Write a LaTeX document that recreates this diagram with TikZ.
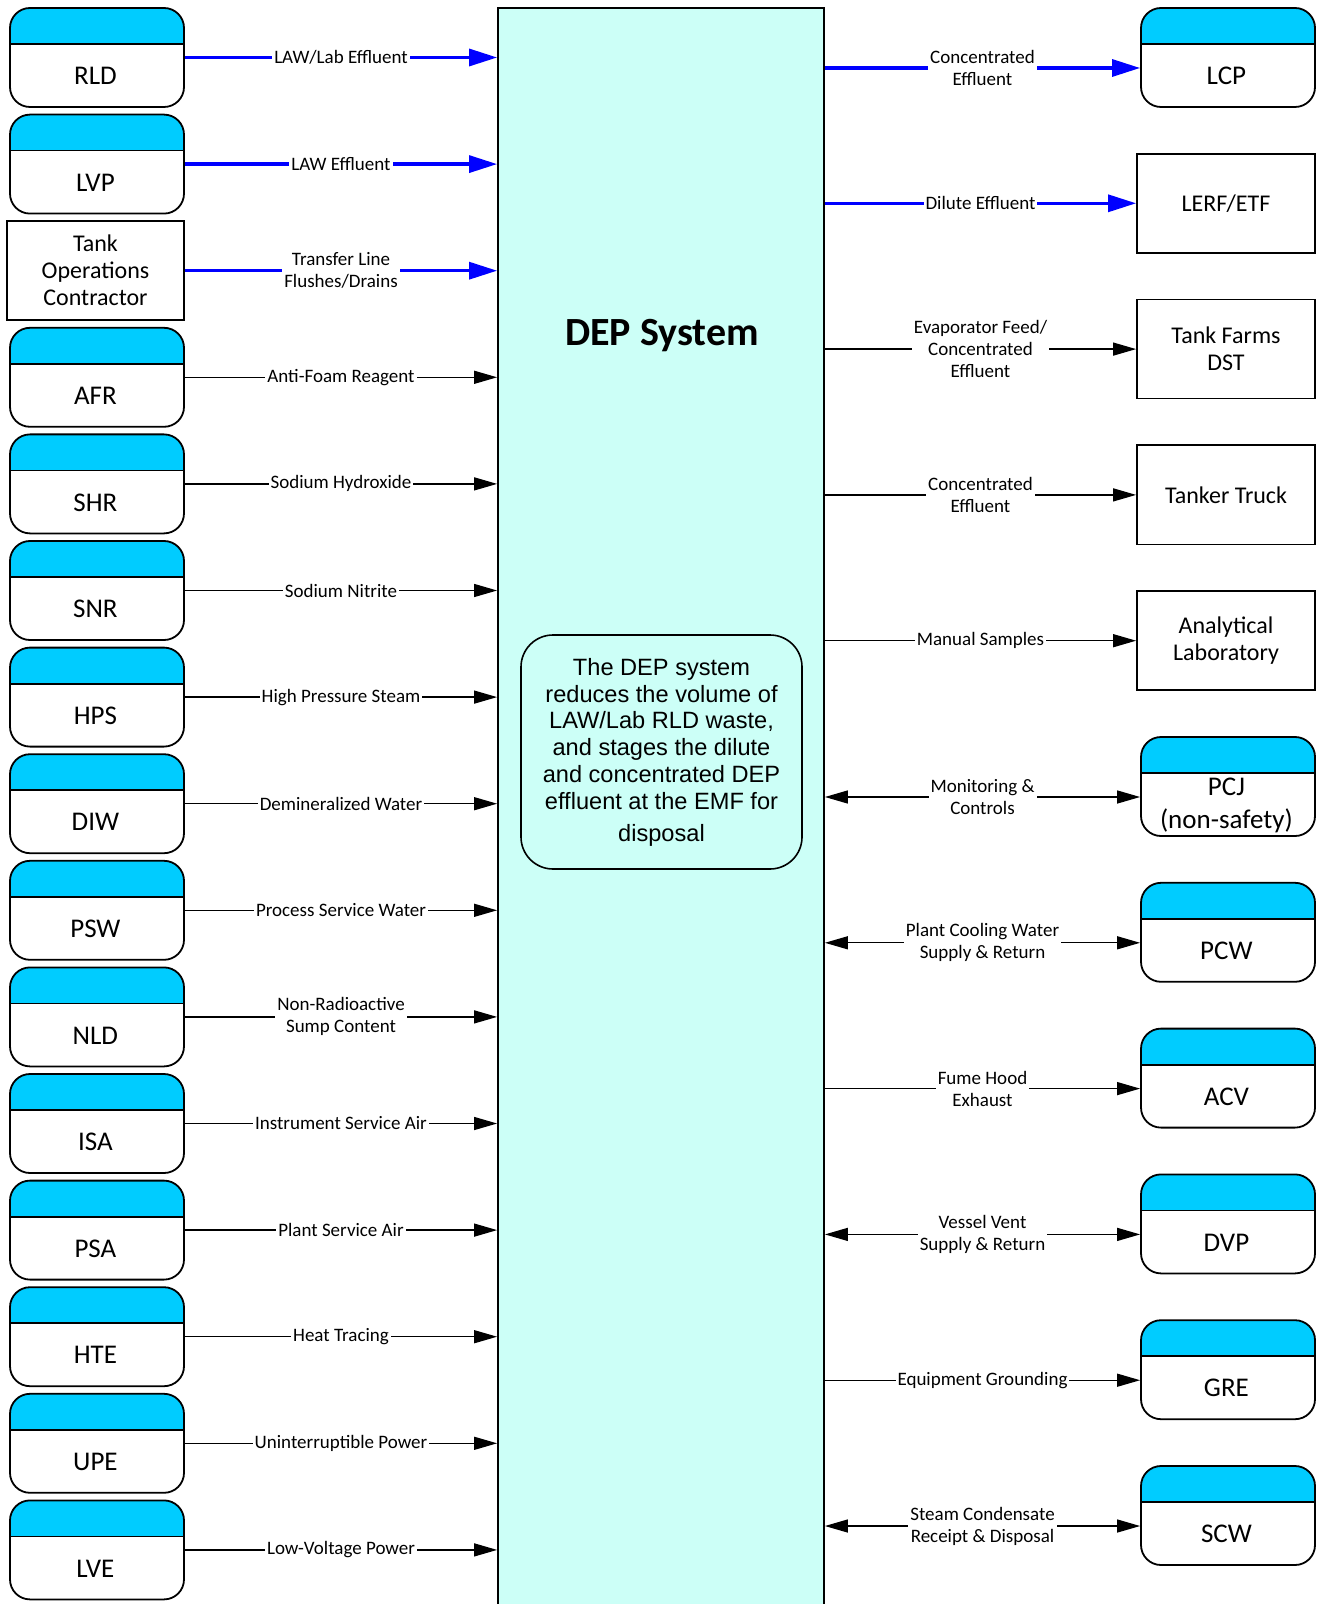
\documentclass[tikz,border=0pt]{standalone}
\usepackage{fontspec}
\setmainfont{Carlito}
\newfontfamily\arialf{Liberation Sans}
\usetikzlibrary{arrows.meta,calc}
\definecolor{hdr}{RGB}{0,204,255}
\definecolor{depfill}{RGB}{204,255,247}
\definecolor{flowblue}{RGB}{0,0,255}
\begin{document}
\begin{tikzpicture}[x=0.5pt,y=-0.5pt,
  sysbox/.style={draw, line width=0.9pt, rounded corners=10pt, minimum width=87pt, minimum height=49.5pt, inner sep=0pt, fill=white,
     path picture={\fill[hdr, sharp corners] (path picture bounding box.north west) rectangle ([yshift=-18pt]path picture bounding box.north east);
        \draw[line width=0.9pt, sharp corners] ([yshift=-18pt]path picture bounding box.north west) -- ([yshift=-18pt]path picture bounding box.north east);},
     label={[font=\fontsize{13.5}{16.5}\selectfont, align=center, yshift=-9.25pt, xshift=-0.8pt]center:#1}},
  rectbox/.style={draw, line width=0.9pt, minimum width=89pt, minimum height=49.5pt, align=center, font=\fontsize{12}{13.5}\selectfont, inner sep=2pt, fill=white},
  blk/.style={line width=0.65pt, -{Triangle[length=11.5pt,width=6.5pt]}},
  blkboth/.style={line width=0.65pt, {Triangle[length=11.5pt,width=6.5pt]}-{Triangle[length=11.5pt,width=6.5pt]}},
  blu/.style={draw=flowblue, line width=1.6pt, -{Triangle[length=14pt,width=8.5pt]}},
  lab/.style={fill=white, inner sep=1pt, align=center, font=\fontsize{9.5}{11}\selectfont, text=black}
]
\useasboundingbox (0,0) rectangle (1317,1604);

% central DEP box
\node[draw, line width=0.9pt, fill=depfill, minimum width=163pt, minimum height=806pt, inner sep=0pt] (DEP) at (661,814) {};
\node[font=\fontsize{20}{22}\selectfont\bfseries] (title) at (662,336) {DEP System};
\node[draw, line width=0.8pt, rounded corners=16pt, fill=depfill, minimum width=140.5pt, minimum height=117pt, align=center, font=\arialf\fontsize{11.8}{13.4}\selectfont] (desc) at (661.5,752) {The DEP system\\reduces the volume of\\LAW/Lab RLD waste,\\and stages the dilute\\and concentrated DEP\\effluent at the EMF for\\[2.5pt]disposal};

% left boxes
\node[sysbox=RLD] (RLD) at (97,57.5) {};
\node[sysbox=LVP] (LVP) at (97,164.1) {};
\node[rectbox, minimum width=88.5pt] (TOC) at (95.5,270.7) {Tank\\Operations\\Contractor};
\node[sysbox=AFR] (AFR) at (97,377.3) {};
\node[sysbox=SHR] (SHR) at (97,483.9) {};
\node[sysbox=SNR] (SNR) at (97,590.5) {};
\node[sysbox=HPS] (HPS) at (97,697.1) {};
\node[sysbox=DIW] (DIW) at (97,803.7) {};
\node[sysbox=PSW] (PSW) at (97,910.3) {};
\node[sysbox=NLD] (NLD) at (97,1016.9) {};
\node[sysbox=ISA] (ISA) at (97,1123.5) {};
\node[sysbox=PSA] (PSA) at (97,1230.1) {};
\node[sysbox=HTE] (HTE) at (97,1336.7) {};
\node[sysbox=UPE] (UPE) at (97,1443.3) {};
\node[sysbox=LVE] (LVE) at (97,1549.9) {};

% right boxes
\node[sysbox=LCP] (LCP) at (1228,57.5) {};
\node[rectbox] (LERF) at (1226,203.3) {LERF/ETF};
\node[rectbox] (TFD) at (1226,349.1) {Tank Farms\\DST};
\node[rectbox] (TT) at (1226,494.9) {Tanker Truck};
\node[rectbox] (AL) at (1226,640.7) {Analytical\\Laboratory};
\node[sysbox={PCJ\\(non-safety)}] (PCJ) at (1228,786.5) {};
\node[sysbox=PCW] (PCW) at (1228,932.3) {};
\node[sysbox=ACV] (ACV) at (1228,1078.1) {};
\node[sysbox=DVP] (DVP) at (1228,1223.9) {};
\node[sysbox=GRE] (GRE) at (1228,1369.7) {};
\node[sysbox=SCW] (SCW) at (1228,1515.5) {};

% left connectors
\draw[blu] (RLD.east) -- (RLD.east -| DEP.west) node[lab, midway] {LAW/Lab Effluent};
\draw[blu] (LVP.east) -- (LVP.east -| DEP.west) node[lab, midway] {LAW Effluent};
\draw[blu] (TOC.east) -- (TOC.east -| DEP.west) node[lab, midway] {Transfer Line\\Flushes/Drains};
\draw[blk] (AFR.east) -- (AFR.east -| DEP.west) node[lab, midway] {Anti-Foam Reagent};
\draw[blk] (SHR.east) -- (SHR.east -| DEP.west) node[lab, midway] {Sodium Hydroxide};
\draw[blk] (SNR.east) -- (SNR.east -| DEP.west) node[lab, midway] {Sodium Nitrite};
\draw[blk] (HPS.east) -- (HPS.east -| DEP.west) node[lab, midway] {High Pressure Steam};
\draw[blk] (DIW.east) -- (DIW.east -| DEP.west) node[lab, midway] {Demineralized Water};
\draw[blk] (PSW.east) -- (PSW.east -| DEP.west) node[lab, midway] {Process Service Water};
\draw[blk] (NLD.east) -- (NLD.east -| DEP.west) node[lab, midway] {Non-Radioactive\\Sump Content};
\draw[blk] (ISA.east) -- (ISA.east -| DEP.west) node[lab, midway] {Instrument Service Air};
\draw[blk] (PSA.east) -- (PSA.east -| DEP.west) node[lab, midway] {Plant Service Air};
\draw[blk] (HTE.east) -- (HTE.east -| DEP.west) node[lab, midway] {Heat Tracing};
\draw[blk] (UPE.east) -- (UPE.east -| DEP.west) node[lab, midway] {Uninterruptible Power};
\draw[blk] (LVE.east) -- (LVE.east -| DEP.west) node[lab, midway] {Low-Voltage Power};

% right connectors
\coordinate (LCPin) at ([yshift=-5.25pt]LCP.west);
\coordinate (PCJin) at ([yshift=-5.25pt]PCJ.west);
\coordinate (PCWin) at ([yshift=-5.25pt]PCW.west);
\coordinate (ACVin) at ([yshift=-5.25pt]ACV.west);
\coordinate (DVPin) at ([yshift=-5.25pt]DVP.west);
\coordinate (GREin) at ([yshift=-5.25pt]GRE.west);
\coordinate (SCWin) at ([yshift=-5.25pt]SCW.west);
\draw[blu] (LCPin -| DEP.east) -- (LCPin) node[lab, midway] {Concentrated\\Effluent};
\draw[blu] (LERF.west -| DEP.east) -- (LERF.west) node[lab, midway] {Dilute Effluent};
\draw[blk] (TFD.west -| DEP.east) -- (TFD.west) node[lab, midway] {Evaporator Feed/\\Concentrated\\Effluent};
\draw[blk] (TT.west -| DEP.east) -- (TT.west) node[lab, midway] {Concentrated\\Effluent};
\draw[blk] (AL.west -| DEP.east) -- (AL.west) node[lab, midway] {Manual Samples};
\draw[blkboth] (PCJin -| DEP.east) -- (PCJin) node[lab, midway] {Monitoring \&\\Controls};
\draw[blkboth] (PCWin -| DEP.east) -- (PCWin) node[lab, midway] {Plant Cooling Water\\Supply \& Return};
\draw[blk] (ACVin -| DEP.east) -- (ACVin) node[lab, midway] {Fume Hood\\Exhaust};
\draw[blkboth] (DVPin -| DEP.east) -- (DVPin) node[lab, midway] {Vessel Vent\\Supply \& Return};
\draw[blk] (GREin -| DEP.east) -- (GREin) node[lab, midway] {Equipment Grounding};
\draw[blkboth] (SCWin -| DEP.east) -- (SCWin) node[lab, midway] {Steam Condensate\\Receipt \& Disposal};
\end{tikzpicture}
\end{document}
